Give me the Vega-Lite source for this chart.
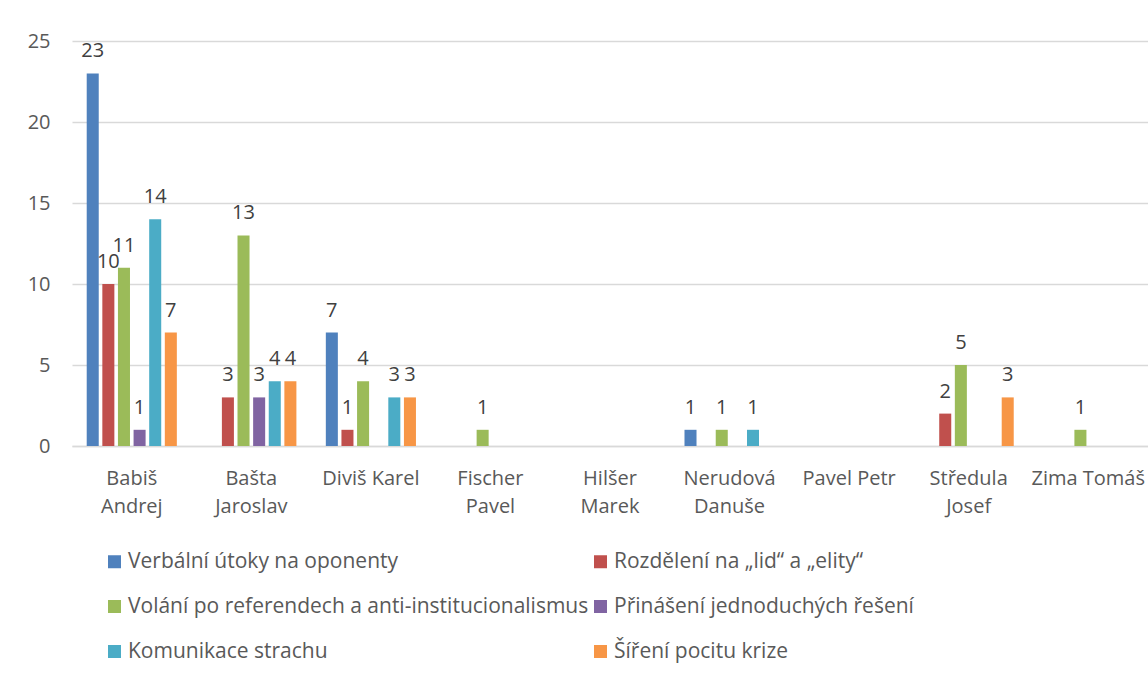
{
  "$schema": "https://vega.github.io/schema/vega-lite/v6.json",
  "width": 1076,
  "height": 405,
  "autosize": {"type": "none"},
  "padding": {"left": 72, "top": 41, "right": 0, "bottom": 232},
  "background": "white",
  "config": {"view": {"stroke": null}, "font": "Open Sans"},
  "data": {
    "values": [
      {"kandidat": "Babiš|Andrej", "kategorie": "Verbální útoky na oponenty", "pocet": 23},
      {"kandidat": "Babiš|Andrej", "kategorie": "Rozdělení na „lid“ a „elity“", "pocet": 10},
      {"kandidat": "Babiš|Andrej", "kategorie": "Volání po referendech a anti-institucionalismus", "pocet": 11},
      {"kandidat": "Babiš|Andrej", "kategorie": "Přinášení jednoduchých řešení", "pocet": 1},
      {"kandidat": "Babiš|Andrej", "kategorie": "Komunikace strachu", "pocet": 14},
      {"kandidat": "Babiš|Andrej", "kategorie": "Šíření pocitu krize", "pocet": 7},
      {"kandidat": "Bašta|Jaroslav", "kategorie": "Verbální útoky na oponenty", "pocet": 0},
      {"kandidat": "Bašta|Jaroslav", "kategorie": "Rozdělení na „lid“ a „elity“", "pocet": 3},
      {"kandidat": "Bašta|Jaroslav", "kategorie": "Volání po referendech a anti-institucionalismus", "pocet": 13},
      {"kandidat": "Bašta|Jaroslav", "kategorie": "Přinášení jednoduchých řešení", "pocet": 3},
      {"kandidat": "Bašta|Jaroslav", "kategorie": "Komunikace strachu", "pocet": 4},
      {"kandidat": "Bašta|Jaroslav", "kategorie": "Šíření pocitu krize", "pocet": 4},
      {"kandidat": "Diviš Karel", "kategorie": "Verbální útoky na oponenty", "pocet": 7},
      {"kandidat": "Diviš Karel", "kategorie": "Rozdělení na „lid“ a „elity“", "pocet": 1},
      {"kandidat": "Diviš Karel", "kategorie": "Volání po referendech a anti-institucionalismus", "pocet": 4},
      {"kandidat": "Diviš Karel", "kategorie": "Přinášení jednoduchých řešení", "pocet": 0},
      {"kandidat": "Diviš Karel", "kategorie": "Komunikace strachu", "pocet": 3},
      {"kandidat": "Diviš Karel", "kategorie": "Šíření pocitu krize", "pocet": 3},
      {"kandidat": "Fischer|Pavel", "kategorie": "Verbální útoky na oponenty", "pocet": 0},
      {"kandidat": "Fischer|Pavel", "kategorie": "Rozdělení na „lid“ a „elity“", "pocet": 0},
      {"kandidat": "Fischer|Pavel", "kategorie": "Volání po referendech a anti-institucionalismus", "pocet": 1},
      {"kandidat": "Fischer|Pavel", "kategorie": "Přinášení jednoduchých řešení", "pocet": 0},
      {"kandidat": "Fischer|Pavel", "kategorie": "Komunikace strachu", "pocet": 0},
      {"kandidat": "Fischer|Pavel", "kategorie": "Šíření pocitu krize", "pocet": 0},
      {"kandidat": "Hilšer|Marek", "kategorie": "Verbální útoky na oponenty", "pocet": 0},
      {"kandidat": "Hilšer|Marek", "kategorie": "Rozdělení na „lid“ a „elity“", "pocet": 0},
      {"kandidat": "Hilšer|Marek", "kategorie": "Volání po referendech a anti-institucionalismus", "pocet": 0},
      {"kandidat": "Hilšer|Marek", "kategorie": "Přinášení jednoduchých řešení", "pocet": 0},
      {"kandidat": "Hilšer|Marek", "kategorie": "Komunikace strachu", "pocet": 0},
      {"kandidat": "Hilšer|Marek", "kategorie": "Šíření pocitu krize", "pocet": 0},
      {"kandidat": "Nerudová|Danuše", "kategorie": "Verbální útoky na oponenty", "pocet": 1},
      {"kandidat": "Nerudová|Danuše", "kategorie": "Rozdělení na „lid“ a „elity“", "pocet": 0},
      {"kandidat": "Nerudová|Danuše", "kategorie": "Volání po referendech a anti-institucionalismus", "pocet": 1},
      {"kandidat": "Nerudová|Danuše", "kategorie": "Přinášení jednoduchých řešení", "pocet": 0},
      {"kandidat": "Nerudová|Danuše", "kategorie": "Komunikace strachu", "pocet": 1},
      {"kandidat": "Nerudová|Danuše", "kategorie": "Šíření pocitu krize", "pocet": 0},
      {"kandidat": "Pavel Petr", "kategorie": "Verbální útoky na oponenty", "pocet": 0},
      {"kandidat": "Pavel Petr", "kategorie": "Rozdělení na „lid“ a „elity“", "pocet": 0},
      {"kandidat": "Pavel Petr", "kategorie": "Volání po referendech a anti-institucionalismus", "pocet": 0},
      {"kandidat": "Pavel Petr", "kategorie": "Přinášení jednoduchých řešení", "pocet": 0},
      {"kandidat": "Pavel Petr", "kategorie": "Komunikace strachu", "pocet": 0},
      {"kandidat": "Pavel Petr", "kategorie": "Šíření pocitu krize", "pocet": 0},
      {"kandidat": "Středula|Josef", "kategorie": "Verbální útoky na oponenty", "pocet": 0},
      {"kandidat": "Středula|Josef", "kategorie": "Rozdělení na „lid“ a „elity“", "pocet": 2},
      {"kandidat": "Středula|Josef", "kategorie": "Volání po referendech a anti-institucionalismus", "pocet": 5},
      {"kandidat": "Středula|Josef", "kategorie": "Přinášení jednoduchých řešení", "pocet": 0},
      {"kandidat": "Středula|Josef", "kategorie": "Komunikace strachu", "pocet": 0},
      {"kandidat": "Středula|Josef", "kategorie": "Šíření pocitu krize", "pocet": 3},
      {"kandidat": "Zima Tomáš", "kategorie": "Verbální útoky na oponenty", "pocet": 0},
      {"kandidat": "Zima Tomáš", "kategorie": "Rozdělení na „lid“ a „elity“", "pocet": 0},
      {"kandidat": "Zima Tomáš", "kategorie": "Volání po referendech a anti-institucionalismus", "pocet": 1},
      {"kandidat": "Zima Tomáš", "kategorie": "Přinášení jednoduchých řešení", "pocet": 0},
      {"kandidat": "Zima Tomáš", "kategorie": "Komunikace strachu", "pocet": 0},
      {"kandidat": "Zima Tomáš", "kategorie": "Šíření pocitu krize", "pocet": 0}
    ]
  },
  "encoding": {
    "x": {
      "field": "kandidat",
      "type": "nominal",
      "sort": ["Babiš|Andrej", "Bašta|Jaroslav", "Diviš Karel", "Fischer|Pavel", "Hilšer|Marek", "Nerudová|Danuše", "Pavel Petr", "Středula|Josef", "Zima Tomáš"],
      "scale": {"paddingInner": 0.22, "paddingOuter": 0.11},
      "axis": {
        "title": null,
        "labelAngle": 0,
        "labelExpr": "split(datum.value, '|')",
        "labelFontSize": 20,
        "labelColor": "#595959",
        "labelPadding": 22,
        "labelLineHeight": 28,
        "ticks": false,
        "domainColor": "#d9d9d9",
        "domainWidth": 1.5
      }
    },
    "xOffset": {
      "field": "kategorie",
      "type": "nominal",
      "sort": ["Verbální útoky na oponenty", "Rozdělení na „lid“ a „elity“", "Volání po referendech a anti-institucionalismus", "Přinášení jednoduchých řešení", "Komunikace strachu", "Šíření pocitu krize"],
      "scale": {"paddingInner": 0.23, "paddingOuter": 0.1}
    },
    "y": {
      "field": "pocet",
      "type": "quantitative",
      "scale": {"domain": [0, 25], "nice": false},
      "axis": {
        "title": null,
        "values": [0, 5, 10, 15, 20, 25],
        "labelFontSize": 20,
        "labelColor": "#595959",
        "labelPadding": 22,
        "ticks": false,
        "domain": false,
        "gridColor": "#d9d9d9",
        "gridWidth": 1.5
      }
    }
  },
  "layer": [
    {
      "mark": {"type": "bar"},
      "encoding": {
        "color": {
          "field": "kategorie",
          "type": "nominal",
          "scale": {
            "domain": ["Verbální útoky na oponenty", "Volání po referendech a anti-institucionalismus", "Komunikace strachu", "Rozdělení na „lid“ a „elity“", "Přinášení jednoduchých řešení", "Šíření pocitu krize"],
            "range": ["#4F81BD", "#9BBB59", "#4BACC6", "#C0504D", "#8064A2", "#F79646"]
          },
          "legend": {
            "title": null,
            "orient": "none",
            "legendX": 32,
            "legendY": 510,
            "columns": 2,
            "columnPadding": 1,
            "rowPadding": 23,
            "symbolType": "square",
            "symbolSize": 169,
            "symbolStrokeWidth": 0,
            "labelFontSize": 21,
            "labelColor": "#595959",
            "labelOffset": 3,
            "labelLimit": 600
          }
        }
      }
    },
    {
      "transform": [{"filter": "datum.pocet > 0"}],
      "mark": {"type": "text", "baseline": "bottom", "dy": -12, "fontSize": 20, "color": "#404040"},
      "encoding": {"text": {"field": "pocet", "type": "quantitative"}}
    }
  ]
}
